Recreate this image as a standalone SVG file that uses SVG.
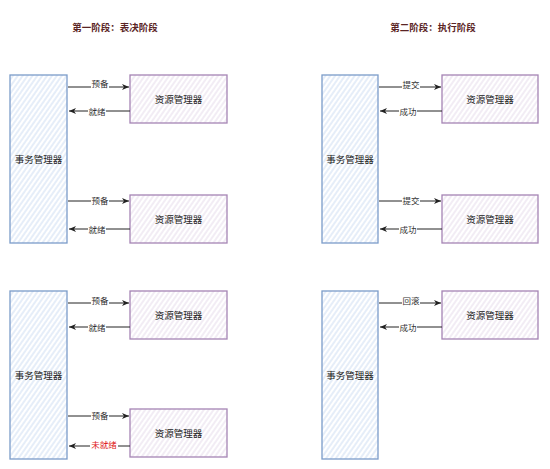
<svg xmlns="http://www.w3.org/2000/svg" width="550" height="469" viewBox="0 0 550 469">
<style>
.tm{fill:url(#hb);stroke:#7b9cc9;stroke-width:1.3}
.rm{fill:url(#hp);stroke:#a584b4;stroke-width:1.3}
.nl{font-family:"Noto Sans CJK SC",sans-serif;font-size:9.5px;fill:#222;text-anchor:middle;dominant-baseline:central}
.tt{font-family:"Noto Sans CJK SC",sans-serif;font-size:9.5px;font-weight:bold;fill:#5a2424;text-anchor:middle;dominant-baseline:central}
.el{font-family:"Noto Sans CJK SC",sans-serif;font-size:8.5px;fill:#333;text-anchor:middle;dominant-baseline:central}
.red{fill:#e02020}
.ln{stroke:#222;stroke-width:1;fill:none;marker-end:url(#ah)}
.bg{fill:#fff}
</style>
<defs>
<pattern id="hb" width="4" height="4" patternUnits="userSpaceOnUse" patternTransform="rotate(-55)">
<rect width="4" height="4" fill="#fff"/>
<line x1="0" y1="2" x2="4" y2="2" stroke="#c6d8f0" stroke-width="0.9"/>
</pattern>
<pattern id="hp" width="4" height="4" patternUnits="userSpaceOnUse" patternTransform="rotate(-55)">
<rect width="4" height="4" fill="#fff"/>
<line x1="0" y1="2" x2="4" y2="2" stroke="#e2d6e8" stroke-width="0.9"/>
</pattern>
<marker id="ah" markerWidth="8" markerHeight="8" refX="7" refY="4" orient="auto" markerUnits="userSpaceOnUse">
<path d="M0,1 L7,4 L0,7 L2,4 Z" fill="#222"/>
</marker>
</defs>
<rect width="550" height="469" fill="#fff"/>
<text class="tt" x="115" y="27">第一阶段：表决阶段</text>
<text class="tt" x="433" y="27">第二阶段：执行阶段</text>

<g id="tm1"><rect class="tm" x="10" y="75" width="57" height="168"/><text class="nl" x="38.5" y="159">事务管理器</text></g>
<g id="rm1a"><rect class="rm" x="130" y="75" width="97" height="48"/><text class="nl" x="178.5" y="99">资源管理器</text></g>
<g id="rm1b"><rect class="rm" x="130" y="195" width="97" height="48"/><text class="nl" x="178.5" y="219">资源管理器</text></g>

<g id="tm2"><rect class="tm" x="322" y="75" width="56" height="168"/><text class="nl" x="350" y="159">事务管理器</text></g>
<g id="rm2a"><rect class="rm" x="442" y="75" width="96" height="48"/><text class="nl" x="490" y="99">资源管理器</text></g>
<g id="rm2b"><rect class="rm" x="442" y="195" width="96" height="48"/><text class="nl" x="490" y="219">资源管理器</text></g>

<g id="tm3"><rect class="tm" x="10" y="291" width="57" height="168"/><text class="nl" x="38.5" y="375">事务管理器</text></g>
<g id="rm3a"><rect class="rm" x="130" y="291" width="97" height="48"/><text class="nl" x="178.5" y="315">资源管理器</text></g>
<g id="rm3b"><rect class="rm" x="130" y="409" width="97" height="48"/><text class="nl" x="178.5" y="433">资源管理器</text></g>

<g id="tm4"><rect class="tm" x="322" y="291" width="56" height="168"/><text class="nl" x="350" y="375">事务管理器</text></g>
<g id="rm4a"><rect class="rm" x="442" y="291" width="96" height="48"/><text class="nl" x="490" y="315">资源管理器</text></g>

<g id="connectors">
<line class="ln" x1="68" y1="87" x2="129" y2="87"/>
<line class="ln" x1="130" y1="111" x2="69" y2="111"/>
<line class="ln" x1="68" y1="201" x2="129" y2="201"/>
<line class="ln" x1="130" y1="229" x2="69" y2="229"/>

<line class="ln" x1="379" y1="87" x2="441" y2="87"/>
<line class="ln" x1="442" y1="111" x2="380" y2="111"/>
<line class="ln" x1="379" y1="201" x2="441" y2="201"/>
<line class="ln" x1="442" y1="229" x2="380" y2="229"/>

<line class="ln" x1="68" y1="303" x2="129" y2="303"/>
<line class="ln" x1="130" y1="327" x2="69" y2="327"/>
<line class="ln" x1="68" y1="416" x2="129" y2="416"/>
<line class="ln" x1="130" y1="446" x2="69" y2="446"/>

<line class="ln" x1="379" y1="303" x2="441" y2="303"/>
<line class="ln" x1="442" y1="327" x2="380" y2="327"/>

<rect class="bg" x="91" y="79" width="18" height="10"/><text class="el" x="100" y="83">预备</text>
<rect class="bg" x="88" y="106" width="18" height="10"/><text class="el" x="97" y="111">就绪</text>
<rect class="bg" x="91" y="195" width="18" height="10"/><text class="el" x="100" y="200">预备</text>
<rect class="bg" x="88" y="224" width="18" height="10"/><text class="el" x="97" y="229">就绪</text>

<rect class="bg" x="402" y="79" width="18" height="10"/><text class="el" x="411" y="84">提交</text>
<rect class="bg" x="399" y="106" width="18" height="10"/><text class="el" x="408" y="111">成功</text>
<rect class="bg" x="402" y="195" width="18" height="10"/><text class="el" x="411" y="200">提交</text>
<rect class="bg" x="399" y="224" width="18" height="10"/><text class="el" x="408" y="229">成功</text>

<rect class="bg" x="91" y="295" width="18" height="10"/><text class="el" x="100" y="300">预备</text>
<rect class="bg" x="88" y="322" width="18" height="10"/><text class="el" x="97" y="327">就绪</text>
<rect class="bg" x="91" y="410" width="18" height="10"/><text class="el" x="100" y="415">预备</text>
<rect class="bg" x="90" y="439" width="28" height="10"/><text class="el red" x="104" y="444">未就绪</text>

<rect class="bg" x="402" y="295" width="18" height="10"/><text class="el" x="411" y="300">回滚</text>
<rect class="bg" x="399" y="322" width="18" height="10"/><text class="el" x="408" y="327">成功</text>
</g>
</svg>
